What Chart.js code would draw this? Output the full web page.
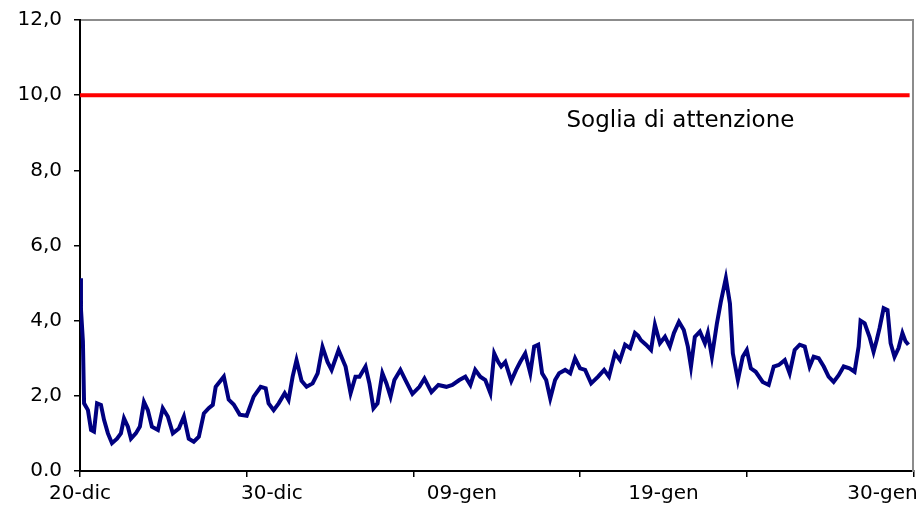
<!DOCTYPE html>
<html>
<head>
<meta charset="utf-8">
<script src="https://cdn.jsdelivr.net/npm/chart.js@4.4.1/dist/chart.umd.min.js"></script>
<style>
  html, body { margin: 0; padding: 0; background: #fff; }
  #wrap { width: 923px; height: 509px; }
</style>
</head>
<body>
<div id="wrap"><canvas id="chart" width="923" height="509"></canvas></div>
<script>
const sampleDays = [
  0, 0.05, 0.15, 0.21, 0.41, 0.57, 0.72, 0.88, 1.08, 1.24, 1.44, 1.65, 1.91, 2.11, 2.27, 2.47, 2.63, 2.88,
  3.09, 3.30, 3.50, 3.71, 4.02, 4.27, 4.53, 4.79, 5.10, 5.36, 5.61, 5.87, 6.13, 6.39, 6.64, 6.85, 7.00,
  7.42, 7.67, 7.93, 8.24, 8.60, 8.96, 9.32, 9.58, 9.73, 9.99, 10.25, 10.56, 10.76, 10.97, 11.17, 11.43,
  11.69, 12.00, 12.26, 12.51, 12.77, 12.98, 13.34, 13.70, 13.96, 14.21,
  14.42, 14.73, 14.93, 15.14, 15.35, 15.60, 15.81, 16.02, 16.22, 16.53, 16.79, 17.15, 17.51, 17.77,
  18.13, 18.49, 18.90, 19.21, 19.57, 19.88, 20.14, 20.39, 20.65, 20.91, 21.17, 21.37,
  21.58, 21.73, 21.94, 22.25, 22.50, 22.71, 22.97, 23.23, 23.43, 23.64, 23.84, 24.05, 24.26, 24.51,
  24.72, 25.03, 25.29, 25.54, 25.80, 26.06, 26.37, 26.73, 27.04, 27.29, 27.60, 27.86, 28.12, 28.38, 28.63,
  28.79, 28.94, 29.20, 29.46, 29.66, 29.92, 30.18, 30.43, 30.64, 30.90, 31.15, 31.36, 31.52, 31.72,
  31.98, 32.24, 32.39, 32.60, 32.86, 33.06, 33.32, 33.53, 33.68, 33.94, 34.19, 34.40, 34.61, 34.86,
  35.22, 35.53, 35.79,
  36.05, 36.36, 36.61, 36.87, 37.13, 37.39, 37.64, 37.85, 38.11, 38.37, 38.62, 38.88, 39.14, 39.40,
  39.70, 39.96, 40.17, 40.27, 40.48, 40.73, 40.94, 41.10, 41.25, 41.46, 41.66, 41.82, 42.02, 42.23,
  42.43, 42.59, 42.74
];
const sampleValues = [
  5.13, 4.3, 3.45, 1.8, 1.62, 1.09, 1.05, 1.8, 1.76, 1.36, 1.0, 0.74, 0.86, 1.0, 1.4, 1.18, 0.86, 1.0,
  1.18, 1.84, 1.62, 1.18, 1.09, 1.67, 1.45, 1.0, 1.13, 1.45, 0.86, 0.78, 0.91, 1.53, 1.67, 1.76, 2.24,
  2.51, 1.9, 1.77, 1.5, 1.47, 1.98, 2.24, 2.2, 1.8, 1.62, 1.8, 2.07, 1.89, 2.51, 2.95, 2.4,
  2.24, 2.33, 2.6, 3.3, 2.9, 2.69, 3.22, 2.78, 2.07, 2.51,
  2.51, 2.78, 2.33, 1.67, 1.8, 2.6, 2.33, 1.98, 2.42, 2.69, 2.42, 2.05, 2.24, 2.46,
  2.1, 2.29, 2.24, 2.29, 2.42, 2.51, 2.29, 2.69, 2.51, 2.42, 2.07, 3.13,
  2.9, 2.78, 2.9, 2.4, 2.69, 2.9, 3.13, 2.6, 3.31, 3.36, 2.6, 2.42, 1.93, 2.42,
  2.6, 2.69, 2.6, 3.0, 2.73, 2.69, 2.33, 2.51, 2.69, 2.51, 3.13, 2.95, 3.36, 3.27, 3.67,
  3.6, 3.48, 3.36, 3.22, 3.89, 3.4, 3.57, 3.31, 3.67, 3.97, 3.75, 3.31, 2.78, 3.57,
  3.71, 3.4, 3.67, 3.04, 3.93, 4.5, 5.13, 4.46, 3.13, 2.42, 3.04, 3.22, 2.73, 2.64,
  2.37, 2.29, 2.78,
  2.82, 2.95, 2.6, 3.22, 3.36, 3.31, 2.78, 3.04, 3.0, 2.78, 2.51, 2.37, 2.55, 2.78,
  2.73, 2.64, 3.31, 4.0, 3.93, 3.57, 3.17, 3.48, 3.8, 4.33, 4.28, 3.4, 3.04, 3.27,
  3.67, 3.45, 3.36
];

// soglia di attenzione
const thresholdValue = 10;
const thresholdDays = [0, 42.8];
const thresholdText = "Soglia di attenzione";
const thresholdTextAt = [25.1, 9.15]; // giorno, valore

// asse x: tacche e etichette
const dayMax = 43;
const tickDays = [0, 8.6, 17.2, 25.8, 34.4, 43];
const tickLabels = ["20-dic", "30-dic", "09-gen", "19-gen", "30-gen"];
const labelDays = [0, 9.9, 19.7, 30.1, 41.4];

// asse y
const yMin = 0;
const yMax = 12;
const yStep = 2;

Chart.defaults.font.family = '"DejaVu Sans", sans-serif';
Chart.defaults.color = "#000";

// scritta della soglia
const thresholdLabel = {
  id: "thresholdLabel",
  afterDatasetsDraw(chart) {
    const { ctx, scales } = chart;
    ctx.save();
    ctx.font = '23px "DejaVu Sans"';
    ctx.fillStyle = "#000";
    ctx.textAlign = "left";
    ctx.textBaseline = "alphabetic";
    ctx.fillText(
      thresholdText,
      scales.x.getPixelForValue(thresholdTextAt[0]),
      scales.y.getPixelForValue(thresholdTextAt[1])
    );
    ctx.restore();
  },
};

const seriesPoints = sampleDays.map((d, i) => ({ x: d, y: sampleValues[i] }));
const thresholdPoints = thresholdDays.map((d) => ({ x: d, y: thresholdValue }));

new Chart(document.getElementById("chart"), {
  type: "line",
  data: {
    datasets: [
      {
        label: thresholdText,
        data: thresholdPoints,
        borderColor: "#ff0000",
        borderWidth: 4,
        pointRadius: 0,
        tension: 0,
      },
      {
        label: "Valori",
        data: seriesPoints,
        borderColor: "#000080",
        borderWidth: 4,
        pointRadius: 0,
        tension: 0,
        borderJoinStyle: "miter",
      },
    ],
  },
  options: {
    responsive: false,
    animation: false,
    layout: { padding: { top: 20, right: 9, left: 0, bottom: 0 } },
    plugins: {
      legend: { display: false },
      tooltip: { enabled: false },
    },
    scales: {
      x: {
        type: "linear",
        position: "bottom",
        weight: 0,
        min: 0,
        max: dayMax,
        afterBuildTicks: (s) => {
          s.ticks = tickDays.map((v) => ({ value: v }));
        },
        ticks: { display: false },
        grid: { drawOnChartArea: false, drawTicks: true, tickLength: 6, color: "#000", lineWidth: 1.5 },
        border: { color: "#000", width: 2 },
        afterFit: (s) => { s.height = 6; },
      },
      xLab: {
        type: "linear",
        position: "bottom",
        weight: 1,
        min: 0,
        max: dayMax,
        afterBuildTicks: (s) => {
          s.ticks = labelDays.map((v) => ({ value: v }));
        },
        ticks: {
          autoSkip: false,
          maxRotation: 0,
          padding: 5,
          color: "#000",
          font: { size: 20 },
          callback: (v, i) => tickLabels[i],
        },
        grid: { display: false, drawTicks: false },
        border: { display: false },
        afterFit: (s) => { s.height = 32; },
      },
      xTop: {
        type: "linear",
        position: "top",
        ticks: { display: false },
        grid: { display: false, drawTicks: false },
        border: { color: "#8c8c8c", width: 2 },
        afterFit: (s) => { s.height = 0; },
      },
      y: {
        position: "left",
        min: yMin,
        max: yMax,
        ticks: {
          stepSize: yStep,
          padding: 12,
          color: "#000",
          font: { size: 20 },
          callback: (v) => (v === 0 ? "0.0" : v.toFixed(1).replace(".", ",")),
        },
        grid: { drawOnChartArea: false, tickLength: 6, color: "#000", lineWidth: 1.5 },
        border: { color: "#000", width: 2 },
        afterFit: (s) => {
          s.width = 80;
          s.paddingTop = 0;
          s.paddingBottom = 0;
        },
      },
      yRight: {
        position: "right",
        ticks: { display: false },
        grid: { display: false, drawTicks: false },
        border: { color: "#8c8c8c", width: 2 },
        afterFit: (s) => { s.width = 0; },
      },
    },
  },
  plugins: [thresholdLabel],
});
</script>
</body>
</html>
